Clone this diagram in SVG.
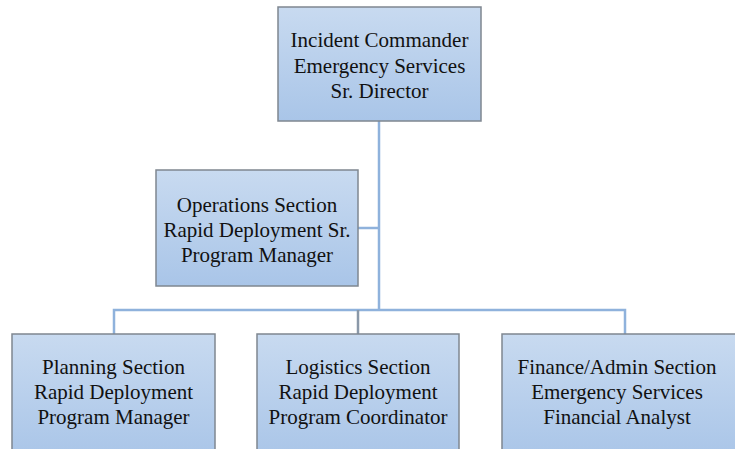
<svg xmlns="http://www.w3.org/2000/svg" width="735" height="449" viewBox="0 0 735 449">
  <defs>
    <linearGradient id="boxFill" x1="0" y1="0" x2="0" y2="1">
      <stop offset="0" stop-color="#c8daf0"/>
      <stop offset="1" stop-color="#a9c5e8"/>
    </linearGradient>
    <style>
      .box { fill: url(#boxFill); stroke: #7f8790; stroke-width: 1.5; }
      .lbl { font-family: "Liberation Serif", "Times New Roman", serif; font-size: 21px; fill: #111; text-anchor: middle; }
      .link { fill: none; stroke: #8fb2dc; stroke-width: 2.5; }
    </style>
  </defs>
  <rect width="735" height="449" fill="#ffffff"/>

  <!-- reporting lines -->
  <g id="connectors">
    <path class="link" d="M379 121 V310"/>
    <path class="link" d="M358 228 H379"/>
    <path class="link" d="M114 334 V310 H625 V334"/>
    <path class="link" d="M358 310 V334" style="stroke:#8a98a8"/>
  </g>

  <g id="incident-commander">
    <rect class="box" x="278" y="7" width="203" height="114"/>
    <text class="lbl" x="379.5" y="47">Incident Commander</text>
    <text class="lbl" x="379.5" y="73">Emergency Services</text>
    <text class="lbl" x="379.5" y="98">Sr. Director</text>
  </g>

  <g id="operations">
    <rect class="box" x="156" y="170" width="202" height="116"/>
    <text class="lbl" x="257" y="212">Operations Section</text>
    <text class="lbl" x="257" y="237">Rapid Deployment Sr.</text>
    <text class="lbl" x="257" y="262">Program Manager</text>
  </g>

  <g id="planning">
    <rect class="box" x="12" y="334" width="203" height="125"/>
    <text class="lbl" x="113.5" y="374">Planning Section</text>
    <text class="lbl" x="113.5" y="399">Rapid Deployment</text>
    <text class="lbl" x="113.5" y="424">Program Manager</text>
  </g>

  <g id="logistics">
    <rect class="box" x="257" y="334" width="202" height="125"/>
    <text class="lbl" x="358" y="374">Logistics Section</text>
    <text class="lbl" x="358" y="399">Rapid Deployment</text>
    <text class="lbl" x="358" y="424">Program Coordinator</text>
  </g>

  <g id="finance">
    <rect class="box" x="502" y="334" width="240" height="125"/>
    <text class="lbl" x="617" y="374">Finance/Admin Section</text>
    <text class="lbl" x="617" y="399">Emergency Services</text>
    <text class="lbl" x="617" y="424">Financial Analyst</text>
  </g>
</svg>
